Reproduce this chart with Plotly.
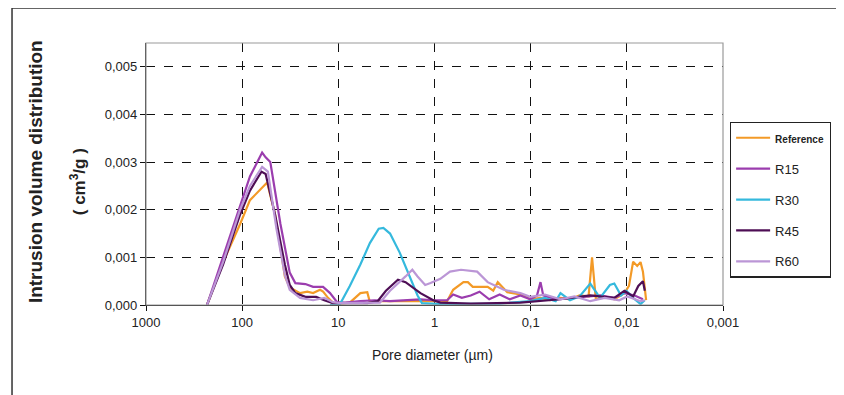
import plotly.graph_objects as go

# Pore diameter (µm) and intrusion volume distribution (cm3/g) per series
ref_d = [232, 158, 105, 83, 55, 45.5, 40, 36, 32, 25, 21, 18.3, 15.5, 14.4, 12.8, 11.4, 10, 7.6, 5.9, 5.0, 4.7, 3.5, 2.0, 1.2,
         0.74, 0.64, 0.50, 0.45, 0.40, 0.28, 0.245, 0.22, 0.19, 0.175, 0.128, 0.115, 0.101, 0.079, 0.063, 0.049, 0.039,
         0.031, 0.025, 0.023, 0.021, 0.017, 0.0135, 0.0106, 0.0095, 0.0086, 0.0078, 0.0072, 0.0068, 0.0065, 0.0063]
ref_v = [0, 0.0009, 0.0017, 0.0022, 0.00257, 0.0019, 0.0012, 0.0006, 0.00037, 0.00025, 0.00028, 0.00025, 0.00032, 0.00028,
         0.00015, 0.00005, 0.00003, 0.00005, 0.00025, 0.00027, 0.00006, 0.00008, 0.00008, 0.00008,
         0.00008, 0.00032, 0.00048, 0.00048, 0.00038, 0.00038, 0.0003, 0.00048, 0.00035, 0.00027, 0.00022, 0.0002, 0.00012,
         0.00015, 0.0001, 0.00015, 0.00012, 0.0002, 0.00018, 0.00100, 0.00012, 0.00018, 0.00012, 0.00025, 0.0004,
         0.00091, 0.00082, 0.0009, 0.0007, 0.0004, 0.0001]

r15_d = [232, 158, 105, 83, 62, 57, 51, 40, 32, 28, 22, 18.3, 14.4, 12.2, 10.3, 8.5, 5.9, 4.2, 2.9, 2.0, 1.4, 1.03, 0.74,
         0.64, 0.52, 0.42, 0.34, 0.27, 0.21, 0.165, 0.128, 0.101, 0.086, 0.079, 0.074, 0.055, 0.039, 0.027, 0.019,
         0.0135, 0.0106, 0.0083, 0.0068]
r15_v = [0, 0.001, 0.00207, 0.0027, 0.0032, 0.0031, 0.003, 0.0017, 0.00068, 0.00046, 0.00044, 0.00038, 0.00038, 0.00025,
         0.00006, 0.00005, 0.00008, 0.0001, 0.00008, 0.0001, 0.00012, 0.0001, 0.0001,
         0.00022, 0.00015, 0.0002, 0.00028, 0.00012, 0.00022, 0.00012, 0.0002, 0.00012, 0.0002, 0.00048, 0.0002, 0.00012,
         0.00015, 0.00018, 0.0002, 0.00015, 0.00025, 0.0002, 0.00012]

r30_d = [12.2, 9.6, 7.6, 5.9, 4.7, 3.8, 3.4, 2.9, 2.3, 1.8, 1.5, 1.35, 0.87, 0.21, 0.101, 0.071, 0.055, 0.049, 0.039,
         0.031, 0.024, 0.019, 0.015, 0.0135, 0.0115, 0.0101, 0.0086, 0.0072, 0.0065]
r30_v = [0, 0.00002, 0.0004, 0.00085, 0.0013, 0.0016, 0.00162, 0.0015, 0.0011, 0.0006, 0.0002, 0.00004, 0.00002, 0.00003,
         0.00008, 0.00015, 0.00008, 0.00025, 0.0001, 0.00018, 0.00045, 0.00015, 0.00042, 0.00045, 0.0002, 0.0003,
         0.00015, 0.00002, 0.0001]

r45_d = [232, 158, 105, 83, 63, 57, 45.5, 36, 32, 28, 22, 17, 14, 11.4, 9.6, 5.0, 3.9, 3.2, 2.4, 2.0, 1.4, 1.03, 0.87,
         0.42, 0.128, 0.049, 0.024, 0.0135, 0.0106, 0.0086, 0.0076, 0.0068, 0.0065]
r45_v = [0, 0.00085, 0.0019, 0.0024, 0.0028, 0.00275, 0.0019, 0.00085, 0.00042, 0.00025, 0.00017, 0.00017, 0.0001,
         0.00004, 0.00004, 0.00004, 0.00008, 0.0003, 0.00053, 0.00048, 0.00025, 0.0001, 0.00005,
         0.00003, 0.00005, 0.00012, 0.0002, 0.00015, 0.0003, 0.00018, 0.0004, 0.0005, 0.0003]

r60_d = [232, 158, 105, 83, 62, 54, 44, 36, 32, 25, 18.3, 14, 11.4, 9.6, 3.7, 2.9, 2.0, 1.7, 1.5, 1.25, 1.1, 0.87, 0.69,
         0.53, 0.36, 0.28, 0.19, 0.128, 0.101, 0.071, 0.049, 0.035, 0.024, 0.017, 0.012, 0.0099, 0.0072, 0.0065]
r60_v = [0, 0.0009, 0.002, 0.0025, 0.0029, 0.0028, 0.0016, 0.00063, 0.00032, 0.00015, 0.0001, 0.00015, 0.00006, 0.00004,
         0.00005, 0.0003, 0.0006, 0.00074, 0.0006, 0.00042, 0.00046, 0.00055, 0.0007, 0.00074, 0.0007, 0.00048,
         0.00032, 0.00025, 0.00017, 0.00022, 0.00012, 0.00018, 0.00008, 0.00015, 0.0001, 0.00018, 0.00008, 0.0001]

series_names = ["<b><span style='font-size:10px'>Reference</span></b>", "R15", "R30", "R45", "R60"]
series_colors = ["#F39A27", "#9B3DAE", "#35B9DD", "#4E0E55", "#BB96D6"]
series_data = [(ref_d, ref_v), (r15_d, r15_v), (r30_d, r30_v), (r45_d, r45_v), (r60_d, r60_v)]

x_tickvals = [1000, 100, 10, 1, 0.1, 0.01, 0.001]
x_ticktext = ["1000", "100", "10", "1", "0,1", "0,01", "0,001"]
y_tickvals = [0, 0.001, 0.002, 0.003, 0.004, 0.005]
y_ticktext = ["0,000", "0,001", "0,002", "0,003", "0,004", "0,005"]

fig = go.Figure()
for i in range(5):
    d, v = series_data[i]
    fig.add_trace(go.Scatter(x=d, y=v, mode="lines", name=series_names[i],
                             line=dict(color=series_colors[i], width=2.2),
                             legendgroup=str(i), legendrank=i + 1))

font = "Liberation Sans, Arial, sans-serif"
fig.update_layout(
    width=836, height=387,
    margin=dict(l=138, r=121, t=35, b=90),
    paper_bgcolor="white", plot_bgcolor="white",
    font=dict(family=font, size=13, color="#222"),
    showlegend=True,
    legend=dict(x=1.012, y=0.70, xanchor="left", yanchor="top",
                bordercolor="#222", borderwidth=1.2, bgcolor="white",
                font=dict(family="Liberation Sans Narrow, Liberation Sans, Arial", size=13, color="#222"),
                tracegroupgap=11, traceorder="grouped", itemwidth=34),
    xaxis=dict(type="log", range=[3, -3], tickvals=x_tickvals, ticktext=x_ticktext,
               showgrid=True, gridcolor="#111", griddash="dash", gridwidth=1,
               showline=True, linecolor="#111", linewidth=1.3, ticks="outside", ticklen=5,
               tickcolor="#111", zeroline=False, tickfont=dict(size=13)),
    yaxis=dict(range=[0, 0.0055], tickvals=y_tickvals, ticktext=y_ticktext,
               showgrid=True, gridcolor="#111", griddash="dash", gridwidth=1,
               showline=True, linecolor="#111", linewidth=1.3, ticks="outside", ticklen=5,
               tickcolor="#111", zeroline=False, tickfont=dict(size=13)),
    shapes=[
        dict(type="rect", xref="paper", yref="paper", x0=0, x1=1, y0=0, y1=1,
             line=dict(color="#9a9a9a", width=1.2), layer="above"),
        dict(type="rect", xref="paper", yref="paper", x0=-0.2322, x1=1.6, y0=-0.6, y1=1.1336,
             line=dict(color="#333", width=1.5), layer="below"),
    ],
    annotations=[
        dict(text="<b>Intrusion volume distribution</b>", xref="paper", yref="paper",
             x=-0.1924, y=0.511, xanchor="center", yanchor="middle", textangle=-90, showarrow=False,
             font=dict(family="Liberation Sans Narrow, Liberation Sans, Arial", size=19, color="#222")),
        dict(text="<b>( cm<sup>3</sup>/g )</b>", xref="paper", yref="paper",
             x=-0.118, y=0.472, xanchor="center", yanchor="middle", textangle=-90, showarrow=False,
             font=dict(family="Liberation Sans Narrow, Liberation Sans, Arial", size=17, color="#222")),
        dict(text="Pore diameter (µm)", xref="paper", yref="paper",
             x=0.497, y=-0.191, xanchor="center", yanchor="middle", showarrow=False,
             font=dict(family=font, size=14, color="#222")),
    ],
)
fig.write_html("out.html")
